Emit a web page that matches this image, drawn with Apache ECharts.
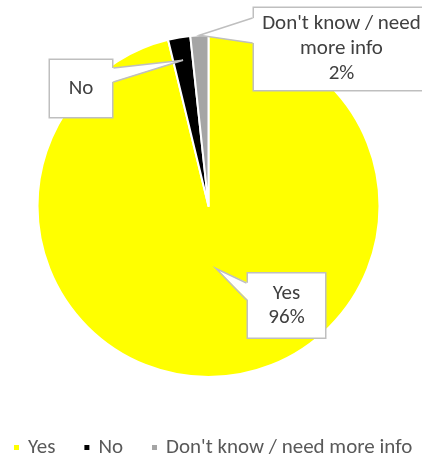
<!DOCTYPE html>
<html>
<head>
<meta charset="utf-8">
<script src="https://cdn.jsdelivr.net/npm/echarts@6/dist/echarts.min.js"></script>
<style>
html,body{margin:0;padding:0;background:#fff;}
#c{width:422px;height:460px;}
</style>
</head>
<body>
<div id="c"></div>
<script>
const categories = ["Yes", "No", "Don't know / need more info"];
const values = [96.2, 2.1, 1.7];
const colors = ["#FFFF00", "#000000", "#A5A5A5"];

const FONT = "Carlito, Lato, 'Noto Sans', sans-serif";
const FS = 21;
const TXT = "#404040";
const CENTER = [208.5, 206];
const R = 171;

// label box layout: centre, content width, line height, padding,
// pointer tip radius fraction, pointer base (offsets from box centre), side, show percent
const labelCfg = [
  { x: 286.5, y: 305.5, w: 69, lh: 24, pad: [8, 4], tip: 63 / R, base: [-22.5, -5.5], side: "left", pct: true },
  { x: 81, y: 88.5, w: 54, lh: 21, pad: [18, 4], tip: 148 / R, base: [-20.5, -6.5], side: "right", pct: false },
  { x: 341.5, y: 49, w: 167, lh: 25, pad: [3.5, 4], tip: 1, base: [-31, -6], side: "left", pct: true }
];
const boxWidths = [];

const measureCtx = document.createElement("canvas").getContext("2d");
function wrap(text, maxW) {
  measureCtx.font = FS + "px " + FONT;
  const words = text.split(" ");
  const lines = [];
  let cur = "";
  words.forEach(w => {
    const t = cur ? cur + " " + w : w;
    if (cur && measureCtx.measureText(t).width > maxW) { lines.push(cur); cur = w; }
    else cur = t;
  });
  if (cur) lines.push(cur);
  return lines;
}

const chart = echarts.init(document.getElementById("c"));

const data = categories.map((n, i) => {
  const c = labelCfg[i];
  return {
    name: n,
    value: values[i],
    itemStyle: { color: colors[i] },
    label: {
      show: true,
      backgroundColor: "#fff",
      borderColor: "#BFBFBF",
      borderWidth: 1.5,
      padding: c.pad,
      formatter: function (p) {
        const lines = wrap(p.name, c.w);
        if (c.pct) lines.push(p.percent + "%");
        return lines.map(l => "{c|" + l + "}").join("\n");
      },
      rich: {
        c: { width: c.w, align: "center", lineHeight: c.lh, fontSize: FS, fontFamily: FONT, color: TXT }
      }
    }
  };
});

chart.setOption({
  animation: false,
  color: colors,
  legend: {
    data: categories,
    left: 12,
    top: 437,
    padding: 0,
    icon: "rect",
    itemWidth: 7,
    itemHeight: 7,
    itemGap: 27,
    textStyle: { color: "#595959", fontFamily: FONT, fontSize: FS, padding: [0, 0, 0, 3] }
  },
  series: [
    {
      type: "pie",
      center: CENTER,
      radius: [0, R],
      startAngle: 90,
      clockwise: true,
      percentPrecision: 0,
      avoidLabelOverlap: false,
      itemStyle: { borderColor: "#fff", borderWidth: 2 },
      label: { position: "outside" },
      labelLine: { show: false },
      labelLayout: function (p) {
        const c = labelCfg[p.dataIndex];
        const r = p.labelRect;
        boxWidths[p.dataIndex] = r.width;
        return {
          dx: c.x - (r.x + r.width / 2),
          dy: c.y - (r.y + r.height / 2)
        };
      },
      data: data
    }
  ]
});

// speech-bubble pointers, anchored on the slice layout computed by ECharts
try {
  const sData = chart.getModel().getSeriesByIndex(0).getData();
  const graphics = [];
  labelCfg.forEach((c, i) => {
    const lay = sData.getItemLayout(i);
    if (!lay) return;
    const mid = (lay.startAngle + lay.endAngle) / 2;
    const rr = lay.r * c.tip;
    const tip = [lay.cx + rr * Math.cos(mid), lay.cy + rr * Math.sin(mid)];
    const half = (boxWidths[i] || (c.w + 2 * c.pad[1])) / 2;
    const sgn = c.side === "left" ? -1 : 1;
    const ex = c.x + sgn * half;
    const b1 = [ex, c.y + c.base[0]];
    const b2 = [ex, c.y + c.base[1]];
    graphics.push({
      type: "polygon", z: 100, silent: true,
      shape: { points: [tip, [ex - sgn * 1.5, b1[1]], [ex - sgn * 1.5, b2[1]]] },
      style: { fill: "#fff", stroke: null }
    });
    graphics.push({
      type: "polyline", z: 101, silent: true,
      shape: { points: [b1, tip, b2] },
      style: { stroke: "#BFBFBF", lineWidth: 1.5, fill: null }
    });
  });
  chart.setOption({ graphic: graphics });
} catch (e) {}
</script>
</body>
</html>
